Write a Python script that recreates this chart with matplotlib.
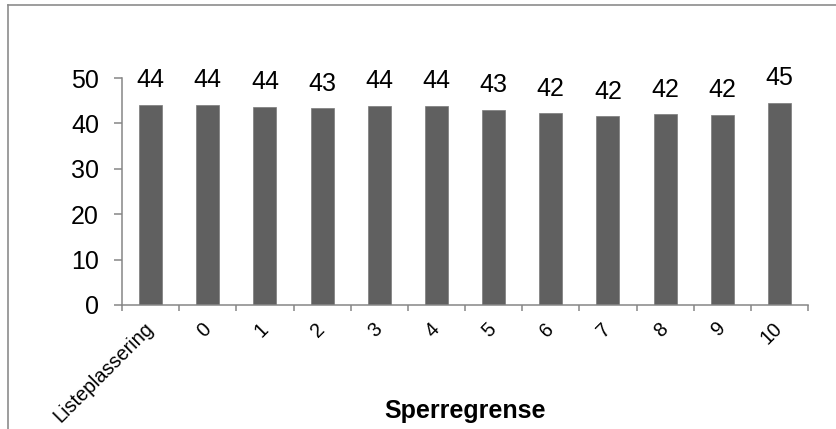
import matplotlib
matplotlib.use("Agg")
import matplotlib.pyplot as plt
from matplotlib.lines import Line2D
import numpy as np

plt.rcParams['font.family'] = ['Liberation Sans', 'DejaVu Sans']

categories = ["Listeplassering", "0", "1", "2", "3", "4", "5", "6", "7", "8", "9", "10"]
values = [44.1, 44.1, 43.7, 43.4, 43.9, 43.9, 43.0, 42.2, 41.6, 42.1, 41.9, 44.6]
y_ticks = [0, 10, 20, 30, 40, 50]
x_title = "Sperregrense"

W, H = 836, 429
fig = plt.figure(figsize=(W / 100, H / 100), dpi=100)
ax = fig.add_axes([122 / W, 1 - 305 / H, (808 - 122) / W, (305 - 78) / H])

grey = "#868686"
x = np.arange(len(categories))
ax.bar(x, values, width=0.4, color="#606060", edgecolor="#7a7a7a", linewidth=0.5, zorder=2)

for xi, v in zip(x, values):
    ax.annotate(f"{v:.0f}", (xi, v), xytext=(0, 12.5), textcoords="offset points",
                ha="center", va="baseline", fontsize=18, color="black")

ax.set_xlim(-0.5, len(categories) - 0.5)
ax.set_ylim(0, 50)
ax.set_yticks(y_ticks)
ax.set_yticklabels([str(t) for t in y_ticks], fontsize=18)
ax.tick_params(axis="y", direction="out", length=5.5, width=1.1, color=grey, pad=11)

ax.set_xticks(x)
ax.set_xticklabels(categories, fontsize=14.2, rotation=45, ha="right", va="center",
                   rotation_mode="anchor")
ax.tick_params(axis="x", which="major", length=0, pad=15)
ax.set_xticks(np.arange(-0.5, len(categories), 1.0), minor=True)
ax.tick_params(axis="x", which="minor", direction="out", length=4, width=1.1, color=grey)

for side in ("top", "right"):
    ax.spines[side].set_visible(False)
for side in ("left", "bottom"):
    ax.spines[side].set_color(grey)
    ax.spines[side].set_linewidth(1.1)

fig.text(465 / W, 1 - 418 / H, x_title, ha="center", va="baseline",
         fontsize=18, fontweight="bold")

# chart area border (left and top edges)
fig.add_artist(Line2D([8 / W, 8 / W], [0, 1 - 5 / H], transform=fig.transFigure,
                      color="#8c8c8c", linewidth=1.2))
fig.add_artist(Line2D([8 / W, 1], [1 - 5 / H, 1 - 5 / H], transform=fig.transFigure,
                      color="#8c8c8c", linewidth=1.2))

fig.savefig("out.png", dpi=100)
